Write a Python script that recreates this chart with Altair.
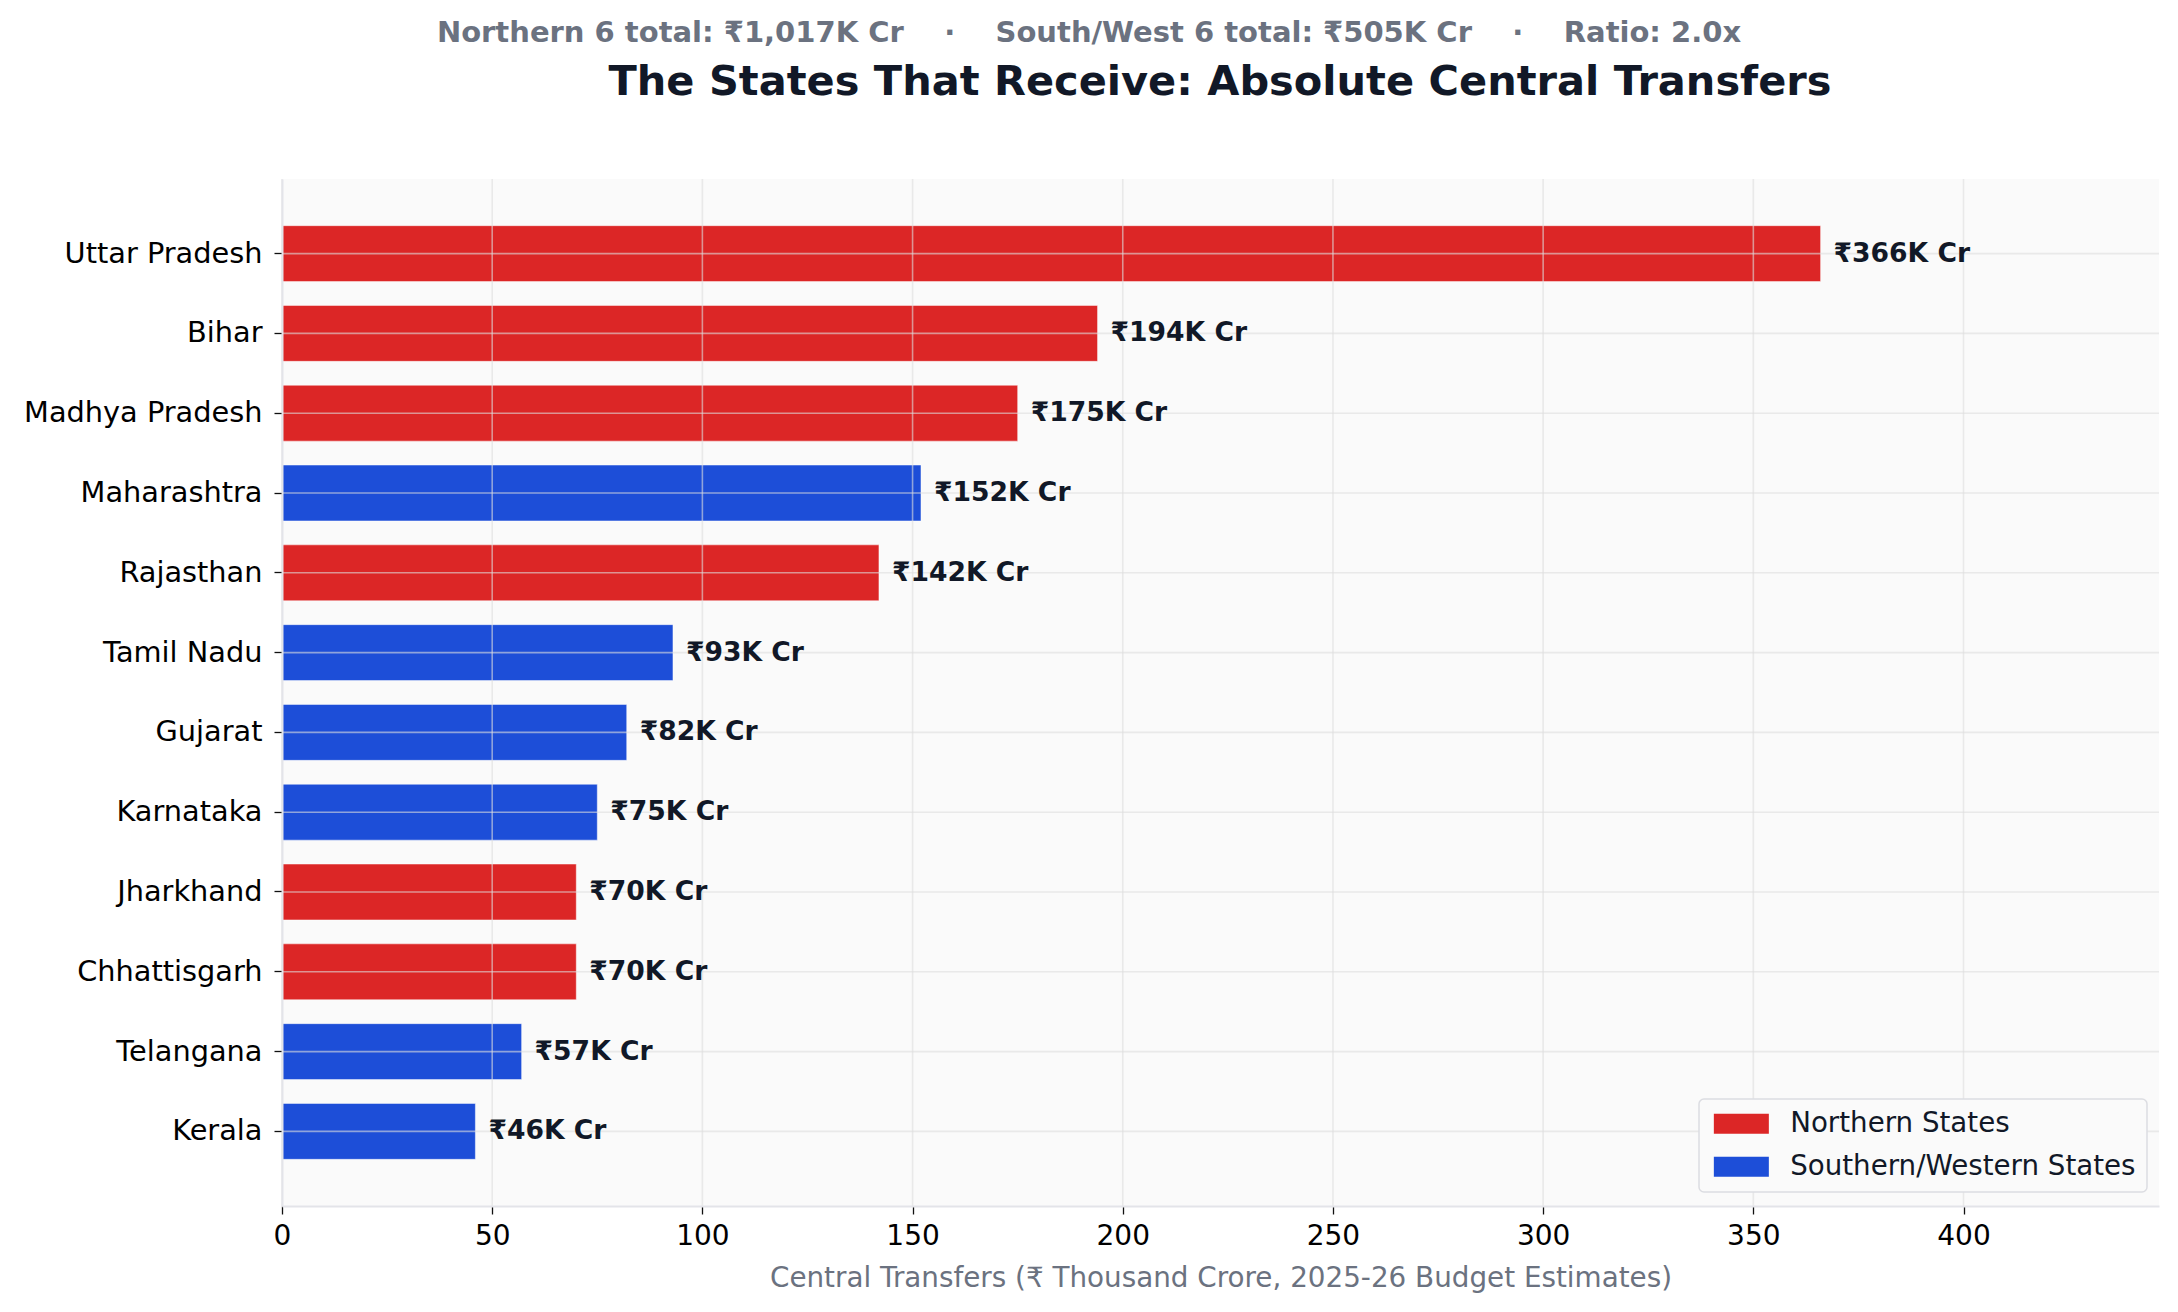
import altair as alt
import pandas as pd

states = ["Uttar Pradesh", "Bihar", "Madhya Pradesh", "Maharashtra", "Rajasthan",
          "Tamil Nadu", "Gujarat", "Karnataka", "Jharkhand", "Chhattisgarh",
          "Telangana", "Kerala"]
transfers = [366, 194, 175, 152, 142, 93, 82, 75, 70, 70, 57, 46]
regions = ["Northern States", "Northern States", "Northern States", "Southern/Western States",
           "Northern States", "Southern/Western States", "Southern/Western States",
           "Southern/Western States", "Northern States", "Northern States",
           "Southern/Western States", "Southern/Western States"]
region_names = ["Northern States", "Southern/Western States"]
region_colors = ["#dc2626", "#1d4ed8"]
x_ticks = [0, 50, 100, 150, 200, 250, 300, 350, 400]
x_max = 446.5

title_text = "The States That Receive: Absolute Central Transfers"
sp = "\u00a0" * 4
suptitle_text = f"Northern 6 total: ₹1,017K Cr{sp}·{sp}South/West 6 total: ₹505K Cr{sp}·{sp}Ratio: 2.0x"
x_title = "Central Transfers (₹ Thousand Crore, 2025-26 Budget Estimates)"

df = pd.DataFrame({
    "state": states,
    "value": transfers,
    "region": regions,
    "label": [f"₹{v}K Cr" for v in transfers],
})
tick_df = pd.DataFrame({"value": x_ticks})

FONT = "DejaVu Sans"
GRID = "#dedede"

xscale = alt.Scale(domain=[0, x_max], nice=False, zero=True)
yscale = alt.Scale(domain=states, paddingInner=0.3, paddingOuter=0.585)

xaxis = alt.Axis(values=x_ticks, title=x_title, grid=False, zindex=1, labelFlush=False,
                 labelFontSize=28, labelColor="#000000", labelFont=FONT,
                 labelPadding=8, tickSize=8, tickColor="#111111", tickWidth=1.3,
                 domainColor="#e3e4e9", domainWidth=2,
                 titleFontSize=27.8, titleColor="#6b7280", titleFontWeight="normal",
                 titleFont=FONT, titlePadding=14)
yaxis = alt.Axis(title=None, grid=False, zindex=1, labelLimit=600,
                 labelFontSize=28.8, labelColor="#000000", labelFont=FONT,
                 labelPadding=12, tickSize=8, tickColor="#111111", tickWidth=1.3,
                 domainColor="#e3e4e9", domainWidth=2)

X = alt.X("value:Q", scale=xscale, axis=xaxis, title=x_title)
Y = alt.Y("state:N", sort=states, scale=yscale, axis=yaxis, title=None)

base = alt.Chart(df)

bars = base.mark_bar(stroke="white", strokeWidth=1, strokeOpacity=0.45).encode(
    x=X, y=Y,
    color=alt.Color("region:N",
                    scale=alt.Scale(domain=region_names, range=region_colors),
                    legend=alt.Legend(title=None, orient="none", legendX=1417, legendY=920,
                                      padding=11, fillColor="#fafafa", strokeColor="#dcdde2",
                                      symbolType="M-2.75,-1H2.75V1H-2.75Z", symbolSize=400,
                                      symbolStrokeWidth=0, symbolOffset=17.5,
                                      labelFontSize=27.7, labelColor="#111827", labelFont=FONT,
                                      labelLimit=600, labelOffset=35, rowPadding=14)),
)

vgrid = alt.Chart(tick_df).mark_rule(color=GRID, strokeWidth=1.6, opacity=0.6).encode(x=X)

hgrid = base.mark_rule(color=GRID, strokeWidth=1.6, opacity=0.6).encode(y=Y)

labels = base.mark_text(align="left", baseline="middle", dx=13, fontSize=26.6,
                        fontWeight="bold", color="#111827", font=FONT).encode(
    x=X, y=Y, text="label:N",
)

sup = alt.Chart(pd.DataFrame({"t": [suptitle_text]})).mark_text(
    align="center", baseline="alphabetic", fontSize=29, fontWeight="bold",
    color="#6b7280", font=FONT).encode(
    text="t:N", x=alt.value(807), y=alt.value(-137))

title = alt.Chart(pd.DataFrame({"t": [title_text]})).mark_text(
    align="center", baseline="alphabetic", fontSize=41.5, fontWeight="bold",
    color="#111827", font=FONT).encode(
    text="t:N", x=alt.value(938), y=alt.value(-84))

chart = alt.layer(bars, vgrid, hgrid, labels, sup, title).properties(
    width=1877, height=1027,
    autosize=alt.AutoSizeParams(type="none"),
    padding={"left": 282, "top": 179, "right": 19, "bottom": 106},
    background="white",
).configure(font=FONT).configure_view(fill="#fafafa", strokeWidth=0).configure_legend(
    strokeWidth=1.5, cornerRadius=5)

chart.save("out.html", embed_options={"renderer": "svg", "actions": False})
